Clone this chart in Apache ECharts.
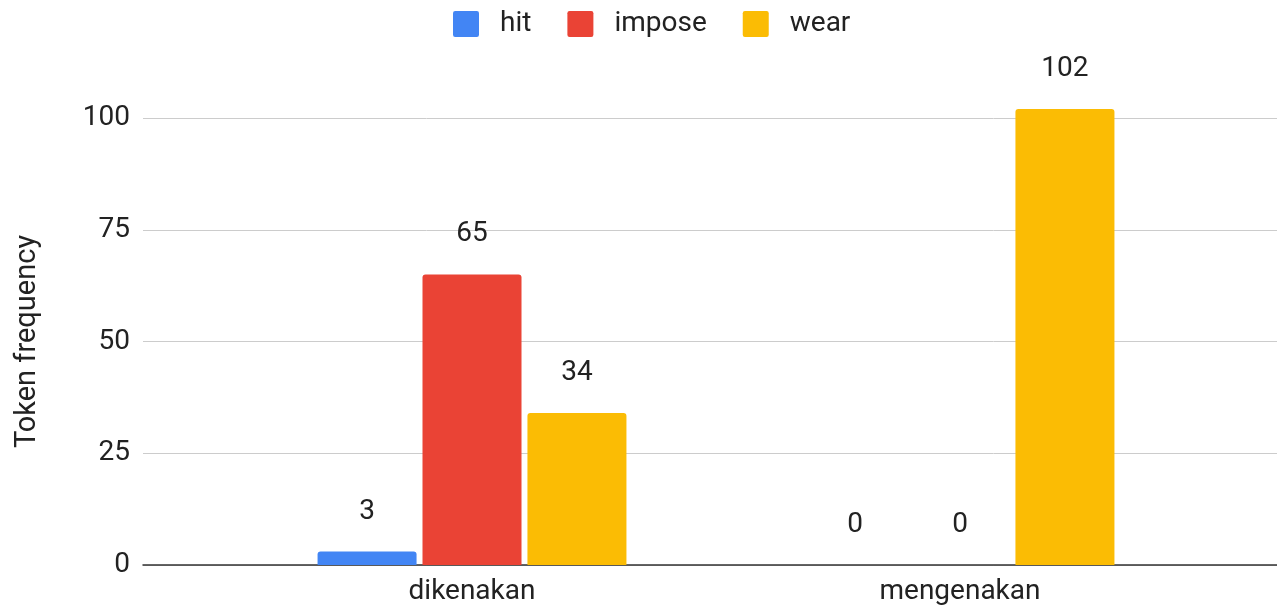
<!DOCTYPE html>
<html><head><meta charset="utf-8">
<script src="https://cdn.jsdelivr.net/npm/echarts@6/dist/echarts.min.js"></script>
<style>html,body{margin:0;padding:0;background:#fff}#c{width:1277px;height:607px}</style>
</head><body><div id="c"></div>
<script>
const categories = ['dikenakan', 'mengenakan'];
const seriesNames = ['hit', 'impose', 'wear'];
const hitValues = [3, 0];
const imposeValues = [65, 0];
const wearValues = [34, 102];
const colors = ['#4285F4', '#EA4335', '#FBBC04'];
const yTicks = [0, 25, 50, 75, 100];

const chart = echarts.init(document.getElementById('c'));
const font = 'Roboto, "Liberation Sans", Arial, sans-serif';
const dataSets = [hitValues, imposeValues, wearValues];

chart.setOption({
  animation: false,
  color: colors,
  textStyle: { fontFamily: font },
  legend: {
    top: 5, left: 448,
    itemWidth: 26, itemHeight: 26, itemGap: 36,
    icon: 'path://M2,0 L22,0 Q24,0 24,2 L24,22 Q24,24 22,24 L2,24 Q0,24 0,22 L0,2 Q0,0 2,0 Z',
    textStyle: { fontSize: 28, color: '#222', fontFamily: font, padding: [0, 0, 0, 16] },
    data: seriesNames
  },
  grid: [
    { left: 143, right: 0, top: 118, bottom: 42, containLabel: false },
    { left: 228, right: 73, top: 118, bottom: 42, containLabel: false }
  ],
  xAxis: [
    { gridIndex: 0, type: 'value', min: 0, max: 1, show: true,
      axisLine: { show: true, onZero: false, lineStyle: { color: '#333', width: 1.5 } },
      axisTick: { show: false }, axisLabel: { show: false }, splitLine: { show: false } },
    { gridIndex: 1, type: 'category', data: categories,
      axisLine: { show: false }, axisTick: { show: false },
      axisLabel: { fontSize: 28, color: '#222', margin: 13, fontFamily: font } }
  ],
  yAxis: [
    { gridIndex: 0, type: 'value', min: 0, max: 100, interval: 25,
      name: 'Token frequency', nameLocation: 'middle', nameGap: 101, nameRotate: 90,
      nameTextStyle: { fontSize: 29, color: '#222', fontFamily: font },
      axisLine: { show: false }, axisTick: { show: false },
      axisLabel: { fontSize: 28, color: '#222', margin: 13, fontFamily: font,
        formatter: v => yTicks.includes(v) ? String(v) : '' },
      splitLine: { lineStyle: { color: '#ccc', width: 1 } } },
    { gridIndex: 1, type: 'value', min: 0, max: 100, interval: 25, show: false,
      splitLine: { show: false } }
  ],
  series: seriesNames.map((name, i) => ({
    name, type: 'bar', xAxisIndex: 1, yAxisIndex: 1,
    data: dataSets[i], barWidth: 99, barGap: '6%', clip: false,
    itemStyle: { color: colors[i], borderRadius: [3, 3, 0, 0] },
    label: { show: true, position: 'top', distance: 26, fontSize: 28, color: '#222', fontFamily: font }
  }))
});
</script></body></html>
